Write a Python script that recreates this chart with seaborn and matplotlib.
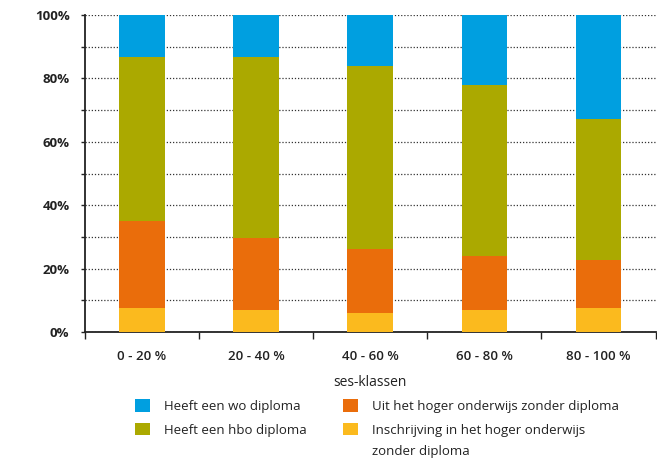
import matplotlib
matplotlib.use("Agg")
import matplotlib.pyplot as plt
import seaborn as sns
import numpy as np
import pandas as pd
from matplotlib.patches import Patch
from matplotlib.ticker import MultipleLocator, FixedLocator

categories = ["0 - 20 %", "20 - 40 %", "40 - 60 %", "60 - 80 %", "80 - 100 %"]
inschrijving = [7.4, 6.8, 5.8, 6.8, 7.4]
uit_zonder = [27.7, 22.9, 20.5, 17.2, 15.4]
hbo = [51.8, 57.2, 57.8, 54.1, 44.3]
wo = [13.1, 13.1, 15.9, 21.9, 32.9]

series_labels = ["Heeft een wo diploma", "Heeft een hbo diploma",
                 "Uit het hoger onderwijs zonder diploma",
                 "Inschrijving in het hoger onderwijs"]
label_continuation = "zonder diploma"
colors = ["#009FE0", "#ABA900", "#EA6D0B", "#FBBA1E"]

sns.set_theme(style="white")
plt.rcParams['font.family'] = ['Open Sans', 'DejaVu Sans']

fig = plt.figure(figsize=(6.57, 4.59), dpi=100)
ax = fig.add_axes([0.129, 0.277, 0.869, 0.69])

c1 = np.array(inschrijving)
c2 = c1 + np.array(uit_zonder)
c3 = c2 + np.array(hbo)
c4 = c3 + np.array(wo)
df = pd.DataFrame({"cat": categories, "c1": c1, "c2": c2, "c3": c3, "c4": c4})

for col, color in zip(["c4", "c3", "c2", "c1"], colors):
    sns.barplot(data=df, x="cat", y=col, color=color, width=0.4, ax=ax,
                saturation=1, zorder=3, edgecolor="none")

ax.set_xlim(-0.5, 4.5)
ax.set_ylim(0, 100)
ax.yaxis.set_major_locator(MultipleLocator(20))
ax.yaxis.set_minor_locator(MultipleLocator(10))
ax.set_yticklabels([f"{int(v)}%" for v in ax.get_yticks()], fontweight="bold", fontsize=9.5, color="#222222")
ax.yaxis.grid(True, which="both", linestyle=(0, (1, 1.5)), color="#333333", linewidth=0.9, zorder=0)
ax.set_axisbelow(True)
ax.tick_params(axis="y", which="both", left=True, length=3, width=1, color="#222222", pad=8)

ax.xaxis.set_minor_locator(FixedLocator([-0.5, 0.5, 1.5, 2.5, 3.5, 4.5]))
ax.tick_params(axis="x", which="major", bottom=False, pad=7)
ax.tick_params(axis="x", which="minor", bottom=True, length=5, width=1, color="#222222")
for lbl in ax.get_xticklabels():
    lbl.set_fontweight("semibold")
    lbl.set_fontsize(9.5)
    lbl.set_color("#222222")

ax.set_xlabel("ses-klassen", fontsize=10, color="#222222", labelpad=9)
ax.set_ylabel("")

for s in ["top", "right"]:
    ax.spines[s].set_visible(False)
for s in ["left", "bottom"]:
    ax.spines[s].set_color("#222222")
    ax.spines[s].set_linewidth(1.3)

handles = [Patch(facecolor=c, edgecolor="none") for c in colors]
leg = fig.legend(handles, series_labels, ncol=2, loc="upper left", bbox_to_anchor=(0.198, 0.142),
                 frameon=False, fontsize=9.5, handlelength=1.1, handleheight=1.1,
                 handletextpad=1.1, columnspacing=2.75, labelspacing=0.75, borderaxespad=0)
for t in leg.get_texts():
    t.set_color("#222222")

fig.canvas.draw()
W, H = fig.get_size_inches() * fig.dpi
bb = leg.get_texts()[3].get_window_extent()
fig.text(bb.x0 / W, ((bb.y0 + bb.y1) / 2 - 21) / H, label_continuation,
         fontsize=9.5, color="#222222", ha="left", va="center")

fig.savefig("out.png", dpi=100)
